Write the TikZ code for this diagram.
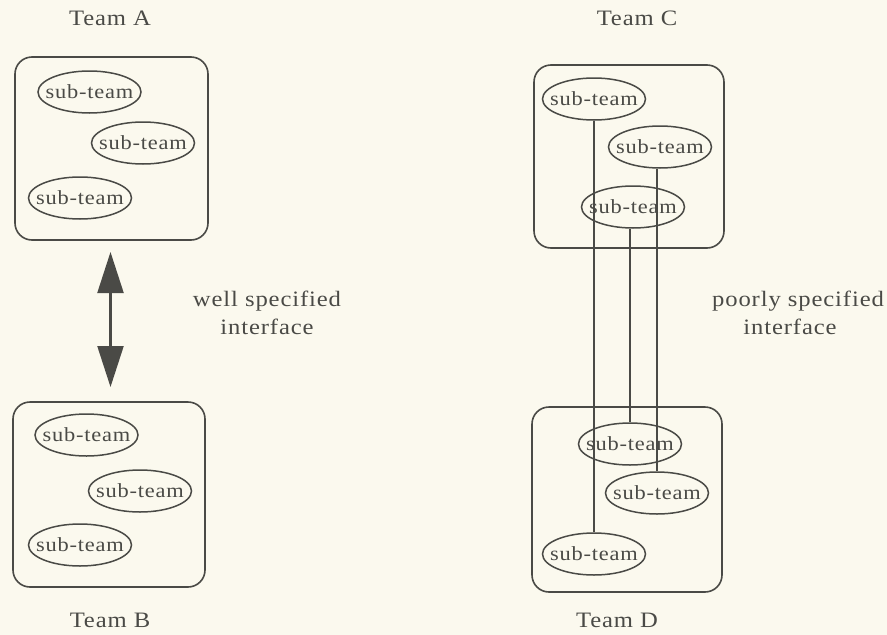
\documentclass[tikz,border=0pt]{standalone}
\usepackage{fontspec}
\setmainfont{Liberation Serif}[LetterSpace=4, FakeStretch=1.12]
\usetikzlibrary{shapes.geometric,arrows.meta}
\definecolor{paper}{HTML}{FBF9EE}
\definecolor{ink}{HTML}{4A4A46}
\begin{document}
\begin{tikzpicture}[x=1pt,y=-1pt,
  every node/.style={text=ink},
  txt/.style={font=\fontsize{22}{26}\selectfont, inner sep=0pt},
  team/.style={draw=ink, line width=1.6pt, rounded corners=17pt},
  subt/.style={draw=ink, line width=1.5pt, ellipse, inner sep=0pt,
    minimum width=103pt, minimum height=42pt,
    font=\fontsize{20}{24}\selectfont},
  link/.style={draw=ink, line width=1.5pt},
  twoway/.style={draw=ink, line width=2.2pt,
    {Triangle[width=26pt,length=41pt]}-{Triangle[width=26pt,length=41pt]}}]
  \fill[paper] (0,0) rectangle (887,635);
  \useasboundingbox (0,0) rectangle (887,635);

  % left pair: teams joined by one clean interface
  \node[team, minimum width=193pt, minimum height=183pt] (A) at (111.5,148.5) {};
  \node[txt] (tA) at (110,18) {Team A};
  \node[subt] (a1) at (89.5,92) {\makebox[0pt]{sub-team}};
  \node[subt] (a2) at (143,143) {\makebox[0pt]{sub-team}};
  \node[subt] (a3) at (80,198) {\makebox[0pt]{sub-team}};

  \node[team, minimum width=192pt, minimum height=185pt] (B) at (109,494.5) {};
  \node[txt] (tB) at (110,620) {Team B};
  \node[subt] (b1) at (86.5,435) {\makebox[0pt]{sub-team}};
  \node[subt] (b2) at (140,491) {\makebox[0pt]{sub-team}};
  \node[subt] (b3) at (80,545) {\makebox[0pt]{sub-team}};

  \coordinate (up) at (110.5,252);
  \coordinate (down) at (110.5,387);
  \draw[twoway] (up) -- (down);
  \node[txt] (wl1) at (267,301) {well specified};
  \node[txt] (wl2) at (267,327) {interface};

  % right pair: sub-teams wired to each other directly
  \node[team, minimum width=190pt, minimum height=183pt] (C) at (629,156.5) {};
  \node[txt] (tC) at (637,18) {Team C};
  \node[subt] (c1) at (594,99) {\makebox[0pt]{sub-team}};
  \node[subt] (c2) at (660,147) {\makebox[0pt]{sub-team}};
  \node[subt] (c3) at (633,207) {\makebox[0pt]{sub-team}};

  \node[team, minimum width=190pt, minimum height=185pt] (D) at (627,499.5) {};
  \node[txt] (tD) at (617,620) {Team D};
  \node[subt] (d1) at (630,444) {\makebox[0pt]{sub-team}};
  \node[subt] (d2) at (657,493) {\makebox[0pt]{sub-team}};
  \node[subt] (d3) at (594,554) {\makebox[0pt]{sub-team}};

  \draw[link] (c1.south) -- (c1.south |- d3.north);
  \draw[link] (c3.south -| d1.north) -- (d1.north);
  \draw[link] (c2.south -| d2.north) -- (d2.north);
  \node[txt] (pl1) at (798,301) {poorly specified};
  \node[txt] (pl2) at (790,327) {interface};
\end{tikzpicture}
\end{document}
